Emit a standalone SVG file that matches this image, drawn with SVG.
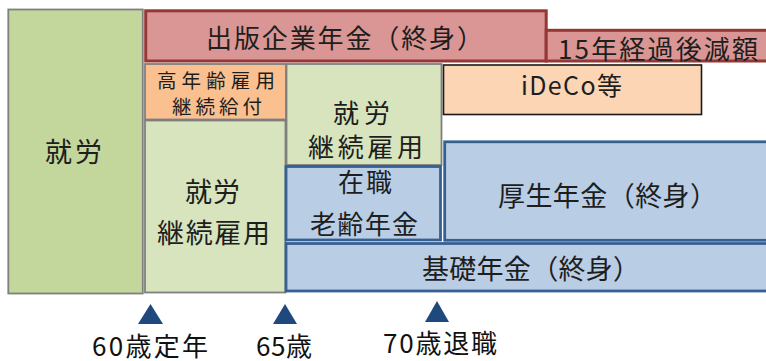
<svg xmlns="http://www.w3.org/2000/svg" width="766" height="361" viewBox="0 0 766 361">
<style>
text{font-family:"Noto Sans CJK JP","Noto Sans",sans-serif;fill:#1e1e1e;text-anchor:middle;dominant-baseline:central}
.grn{fill:#c3d69b;stroke:#7f7f7f;stroke-width:1.8}
.lgr{fill:#d7e4bd;stroke:#7f7f7f;stroke-width:1.8}
.red{fill:#d99694;stroke:#953735;stroke-width:3}
.org{fill:#fac090;stroke:#7f7f7f;stroke-width:1.8}
.ide{fill:#fcd5b5;stroke:#1a1a1a;stroke-width:1.6}
.blu{fill:#b9cde5;stroke:#376092;stroke-width:2.8}
.tri{fill:#1f497d}
.lab{fill:#111}
</style>
<rect x="0" y="0" width="766" height="361" fill="#fff"/>
<g id="work60">
<rect class="grn" x="8.3" y="9.5" width="134.5" height="284"/>
<text x="73.5" y="150.5" font-size="27" textLength="57" lengthAdjust="spacing">就労</text>
</g>
<g id="corp-pension">
<rect class="red" x="145.7" y="10.8" width="400.5" height="50.2"/>
<text x="344.5" y="36" font-size="26" textLength="277" lengthAdjust="spacing">出版企業年金（終身）</text>
</g>
<g id="corp-reduced">
<rect class="red" x="546.2" y="30.3" width="230" height="30.7"/>
<text x="658" y="47" font-size="26" textLength="200" lengthAdjust="spacing">15年経過後減額</text>
</g>
<g id="koureikyufu">
<rect class="org" x="145" y="64" width="141" height="55.5"/>
<text x="216" y="79" font-size="19.5" textLength="118" lengthAdjust="spacing">高年齢雇用</text>
<text x="217" y="105.5" font-size="19.5" textLength="90" lengthAdjust="spacing">継続給付</text>
</g>
<g id="keizoku1">
<rect class="lgr" x="145" y="120.5" width="140.5" height="172"/>
<text x="212.5" y="190" font-size="27" textLength="55" lengthAdjust="spacing">就労</text>
<text x="213.5" y="231" font-size="27" textLength="113" lengthAdjust="spacing">継続雇用</text>
</g>
<g id="keizoku2">
<rect class="lgr" x="286.5" y="64" width="155" height="101"/>
<text x="361.5" y="111.5" font-size="26" textLength="57" lengthAdjust="spacing">就労</text>
<text x="365.5" y="145.5" font-size="26" textLength="115" lengthAdjust="spacing">継続雇用</text>
</g>
<g id="ideco">
<rect class="ide" x="443.5" y="65" width="258" height="49.5"/>
<text x="571.5" y="84" font-size="25" textLength="101" lengthAdjust="spacing">iDeCo等</text>
</g>
<g id="kosei">
<rect class="blu" x="444.7" y="141.8" width="330" height="98.5"/>
<text x="607.5" y="194" font-size="27" textLength="219" lengthAdjust="spacing">厚生年金（終身）</text>
</g>
<g id="zaishoku">
<rect class="blu" x="286" y="166.5" width="154.5" height="73.5"/>
<text x="365" y="180" font-size="26" textLength="54" lengthAdjust="spacing">在職</text>
<text x="364" y="222" font-size="26" textLength="108" lengthAdjust="spacing">老齢年金</text>
</g>
<g id="kiso">
<rect class="blu" x="286" y="243.5" width="490" height="47.5"/>
<text x="531" y="267" font-size="27" textLength="218" lengthAdjust="spacing">基礎年金（終身）</text>
</g>
<g id="markers">
<polygon class="tri" points="150.5,304 138,324 163,324"/>
<polygon class="tri" points="285,304 273,324 297,324"/>
<polygon class="tri" points="437,301 425,322 449,322"/>
</g>
<g id="labels">
<text class="lab" x="150" y="344" font-size="26" textLength="116" lengthAdjust="spacing">60歳定年</text>
<text class="lab" x="284" y="344" font-size="26" textLength="56" lengthAdjust="spacing">65歳</text>
<text class="lab" x="440" y="341.5" font-size="26" textLength="114" lengthAdjust="spacing">70歳退職</text>
</g>
</svg>
